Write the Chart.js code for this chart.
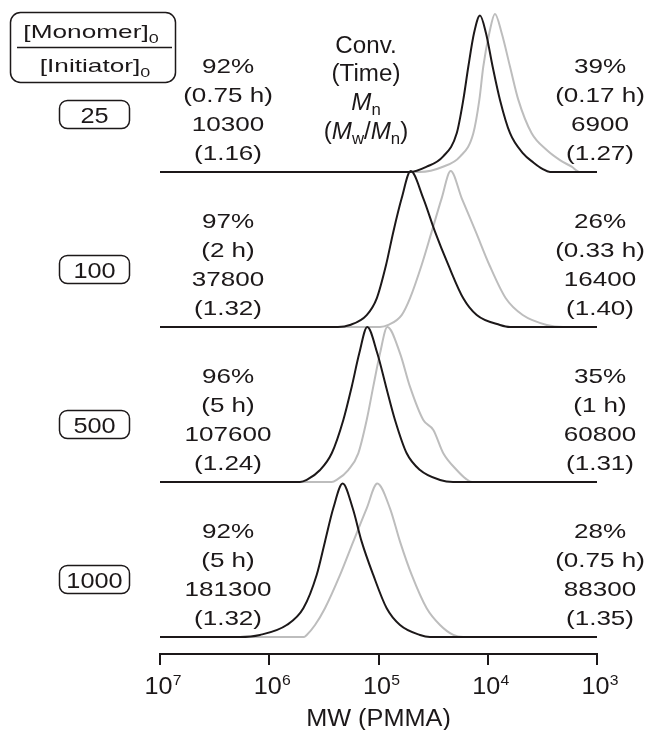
<!DOCTYPE html>
<html>
<head>
<meta charset="utf-8">
<script src="https://cdn.jsdelivr.net/npm/chart.js@4.4.1/dist/chart.umd.min.js"></script>
<style>
  html, body { margin: 0; padding: 0; background: #fff; }
  #wrap { width: 648px; height: 730px; }
</style>
</head>
<body>
<div id="wrap"><canvas id="gpc" width="648" height="730"></canvas></div>
<script>
const ratioLabels = ["25", "100", "500", "1000"];

// left column: final sample (black trace)
const finalConv = ["92%", "97%", "96%", "92%"];
const finalTime = ["(0.75 h)", "(2 h)", "(5 h)", "(5 h)"];
const finalMn = ["10300", "37800", "107600", "181300"];
const finalPdi = ["(1.16)", "(1.32)", "(1.24)", "(1.32)"];

// right column: early sample (grey trace)
const earlyConv = ["39%", "26%", "35%", "28%"];
const earlyTime = ["(0.17 h)", "(0.33 h)", "(1 h)", "(0.75 h)"];
const earlyMn = ["6900", "16400", "60800", "88300"];
const earlyPdi = ["(1.27)", "(1.40)", "(1.31)", "(1.35)"];

const tickExponents = [7, 6, 5, 4, 3];

// traces: log10(MW) and normalised detector height
const finalLg25 = [7, 4.712, 4.559, 4.41, 4.284, 4.224, 4.178, 4.126, 4.071, 4.016, 3.955, 3.888, 3.796, 3.677, 3.58, 3.5, 3.43, 3];
const finalH25 = [0, 0, 0.034, 0.099, 0.25, 0.465, 0.679, 0.895, 1.01, 0.895, 0.679, 0.465, 0.25, 0.12, 0.06, 0.02, 0, 0];
const earlyLg25 = [7, 4.62, 4.41, 4.254, 4.132, 4.077, 4.041, 3.986, 3.934, 3.872, 3.796, 3.72, 3.598, 3.46, 3.339, 3.232, 3.156, 3];
const earlyH25 = [0, 0, 0.034, 0.099, 0.25, 0.465, 0.679, 0.895, 1.02, 0.895, 0.679, 0.465, 0.25, 0.142, 0.077, 0.034, 0, 0];

const finalLg100 = [7, 5.371, 5.261, 5.108, 5.016, 4.931, 4.864, 4.788, 4.705, 4.59, 4.483, 4.361, 4.224, 4.101, 3.888, 3.796, 3];
const finalH100 = [0, 0, 0.013, 0.077, 0.185, 0.4, 0.615, 0.83, 1.006, 0.83, 0.615, 0.4, 0.185, 0.077, 0.013, 0, 0];
const earlyLg100 = [7, 4.986, 4.91, 4.788, 4.712, 4.605, 4.513, 4.422, 4.339, 4.238, 4.11, 3.985, 3.835, 3.68, 3.46, 3.311, 3];
const earlyH100 = [0, 0, 0.013, 0.077, 0.185, 0.4, 0.615, 0.83, 1.006, 0.83, 0.615, 0.4, 0.185, 0.077, 0.013, 0, 0];

const finalLg500 = [7, 5.719, 5.657, 5.535, 5.428, 5.322, 5.245, 5.176, 5.103, 5.011, 4.931, 4.849, 4.742, 4.62, 4.437, 4.318, 3];
const finalH500 = [0, 0, 0.013, 0.077, 0.185, 0.4, 0.615, 0.83, 1.0, 0.83, 0.615, 0.4, 0.185, 0.077, 0.013, 0, 0];
const earlyLg500 = [7, 5.428, 5.383, 5.277, 5.185, 5.108, 5.048, 4.986, 4.919, 4.803, 4.712, 4.59, 4.498, 4.407, 4.284, 4.199, 4.144, 3];
const earlyH500 = [0, 0, 0.013, 0.077, 0.185, 0.4, 0.615, 0.83, 1.0, 0.83, 0.615, 0.4, 0.335, 0.185, 0.077, 0.02, 0, 0];

const finalLg1000 = [7, 6.268, 6.085, 5.84, 5.688, 5.566, 5.49, 5.414, 5.328, 5.236, 5.154, 5.048, 4.925, 4.803, 4.62, 4.529, 3];
const finalH1000 = [0, 0, 0.013, 0.077, 0.185, 0.4, 0.615, 0.83, 0.99, 0.83, 0.615, 0.4, 0.185, 0.077, 0.013, 0, 0];
const earlyLg1000 = [7, 5.682, 5.657, 5.581, 5.49, 5.352, 5.231, 5.108, 5.011, 4.895, 4.803, 4.696, 4.559, 4.437, 4.315, 4.224, 3];
const earlyH1000 = [0, 0, 0.013, 0.077, 0.185, 0.4, 0.615, 0.83, 0.99, 0.83, 0.615, 0.4, 0.185, 0.077, 0.013, 0, 0];

const finalLg = [finalLg25, finalLg100, finalLg500, finalLg1000];
const finalH = [finalH25, finalH100, finalH500, finalH1000];
const earlyLg = [earlyLg25, earlyLg100, earlyLg500, earlyLg1000];
const earlyH = [earlyH25, earlyH100, earlyH500, earlyH1000];

const ink = "#1c1819";
const grey = "#bdbdbd";
const family = '"Liberation Sans", Arial, Helvetica, sans-serif';

function font(size, italic) {
  return (italic ? "italic " : "") + size + "px " + family;
}

// parts: [text, size, italic, dy]; drawn centred on cx, stretched by sx
function rich(c, parts, cx, y, sx) {
  let w = 0;
  parts.forEach((p) => {
    c.font = font(p[1], p[2]);
    w += c.measureText(p[0]).width;
  });
  c.save();
  c.translate(cx, y);
  c.scale(sx, 1);
  let x = -w / 2;
  parts.forEach((p) => {
    c.font = font(p[1], p[2]);
    c.fillText(p[0], x, p[3] || 0);
    x += c.measureText(p[0]).width;
  });
  c.restore();
}

const annotate = {
  id: "annotate",
  afterDraw(chart) {
    const c = chart.ctx;
    const xs = chart.scales.x;
    const ys = chart.scales.y;
    c.save();
    c.fillStyle = ink;
    c.strokeStyle = ink;
    c.textBaseline = "alphabetic";

    // axis tick labels and title
    tickExponents.forEach((e) => {
      const px = xs.getPixelForValue(e);
      rich(c, [["10", 24], [String(e), 15, false, -9]], px + 3, 694, 1.05);
    });
    rich(c, [["MW (PMMA)", 23]], (xs.left + xs.right) / 2, 726, 1.1);

    // column header
    const hx = 366;
    rich(c, [["Conv.", 23]], hx, 53, 1.05);
    rich(c, [["(Time)", 23]], hx, 81, 1.05);
    rich(c, [["M", 23, true], ["n", 16, false, 5]], hx, 110, 1.05);
    rich(c, [["(", 23], ["M", 23, true], ["w", 16, false, 5], ["/", 23], ["M", 23, true], ["n", 16, false, 5], [")", 23]], hx, 139, 1.05);

    // ratio header box
    c.lineWidth = 1.5;
    c.beginPath();
    c.roundRect(10.5, 12.5, 165, 70, 10);
    c.stroke();
    c.beginPath();
    c.moveTo(17, 47.5);
    c.lineTo(172, 47.5);
    c.stroke();
    rich(c, [["[Monomer]", 19], ["0", 13, false, 5]], 91, 38, 1.38);
    rich(c, [["[Initiator]", 19], ["0", 13, false, 5]], 95, 72, 1.38);

    for (let i = 0; i < 4; i++) {
      const base = ys.getPixelForValue(3 - i);
      const by = Math.round(base - 72) + 0.5;
      c.beginPath();
      c.roundRect(59.5, by, 70, 28, 8);
      c.stroke();
      rich(c, [[ratioLabels[i], 22]], 94.5, by + 22, 1.15);

      const left = [finalConv[i], finalTime[i], finalMn[i], finalPdi[i]];
      const right = [earlyConv[i], earlyTime[i], earlyMn[i], earlyPdi[i]];
      const rows = [-99, -70, -41, -12];
      rows.forEach((dy, k) => {
        rich(c, [[left[k], 21]], 228, base + dy, 1.24);
        rich(c, [[right[k], 21]], 600, base + dy, 1.24);
      });
    }
    c.restore();
  },
};

const datasets = [];
for (let i = 0; i < 4; i++) {
  const lift = 3 - i;
  datasets.push({
    label: "final " + ratioLabels[i],
    data: finalLg[i].map((lg, k) => ({ x: lg, y: lift + finalH[i][k] })),
    borderColor: ink,
    order: 0,
  });
  datasets.push({
    label: "early " + ratioLabels[i],
    data: earlyLg[i].map((lg, k) => ({ x: lg, y: lift + earlyH[i][k] })),
    borderColor: grey,
    order: 1,
  });
}
datasets.forEach((d) => {
  d.showLine = true;
  d.pointRadius = 0;
  d.borderWidth = 2;
  d.fill = false;
  d.cubicInterpolationMode = "monotone";
});

new Chart(document.getElementById("gpc"), {
  type: "scatter",
  data: { datasets: datasets },
  options: {
    responsive: false,
    animation: false,
    devicePixelRatio: 1,
    layout: { padding: { left: 160, right: 51, top: 1.5, bottom: 65 } },
    plugins: { legend: { display: false }, tooltip: { enabled: false } },
    scales: {
      x: {
        type: "linear",
        min: 3,
        max: 7,
        reverse: true,
        grid: { drawOnChartArea: false, drawTicks: true, tickLength: 11, color: ink, lineWidth: 2 },
        border: { display: true, color: ink, width: 2 },
        ticks: { display: false, stepSize: 1 },
      },
      y: { display: false, min: -0.11, max: 4.1 },
    },
  },
  plugins: [annotate],
});
</script>
</body>
</html>
